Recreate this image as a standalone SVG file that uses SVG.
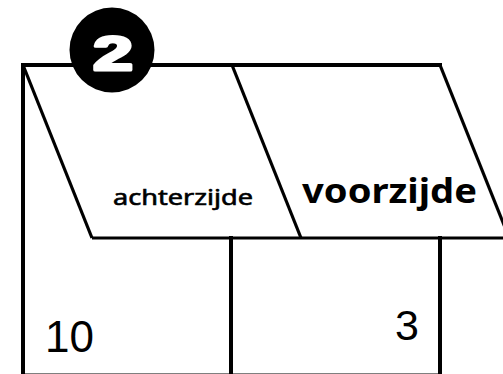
<svg xmlns="http://www.w3.org/2000/svg" width="503" height="374" viewBox="0 0 503 374">
<style>
.ln{stroke:#000;stroke-width:4;fill:none;stroke-linecap:square}
.dg{stroke:#000;stroke-width:3.2;fill:none}
.lbl{font-family:"Noto Sans","Open Sans",sans-serif;fill:#000}
.num{font-family:"Liberation Sans",Arial,sans-serif;fill:#000}
</style>
<rect width="503" height="374" fill="#fff"/>
<g id="connectors">
<line class="ln" x1="23" y1="65" x2="440" y2="65"/>
<line class="ln" x1="23" y1="65" x2="23" y2="376"/>
<line class="dg" x1="23" y1="65" x2="92" y2="238"/>
<line class="dg" x1="232" y1="65" x2="301" y2="238"/>
<line class="dg" x1="440" y1="65" x2="506" y2="230"/>
<line class="dg" x1="92" y1="238" x2="503" y2="238"/>
<line class="ln" x1="231" y1="238" x2="231" y2="376"/>
<line class="ln" x1="440" y1="238" x2="440" y2="376"/>
<line x1="23" y1="375.5" x2="440" y2="375.5" stroke="#000" stroke-width="4"/>
</g>
<g id="achterzijde">
<text class="lbl" x="113" y="205" font-size="21.5" stroke="#000" stroke-width="0.6" textLength="140" lengthAdjust="spacingAndGlyphs">achterzijde</text>
</g>
<g id="voorzijde">
<text class="lbl" x="302" y="203" font-size="34" font-weight="bold" textLength="175" lengthAdjust="spacingAndGlyphs">voorzijde</text>
</g>
<g id="cell-10">
<text class="num" x="45" y="352" font-size="44">10</text>
</g>
<g id="cell-3">
<text class="num" x="395" y="340" font-size="43">3</text>
</g>
<g id="badge">
<circle cx="112" cy="50" r="42.5" fill="#000"/>
<text x="93" y="70" font-family="Liberation Sans,Arial,sans-serif" font-weight="bold" font-size="48" fill="#fff" stroke="#fff" stroke-width="3" stroke-linejoin="round" textLength="40" lengthAdjust="spacingAndGlyphs">2</text>
</g>
</svg>
